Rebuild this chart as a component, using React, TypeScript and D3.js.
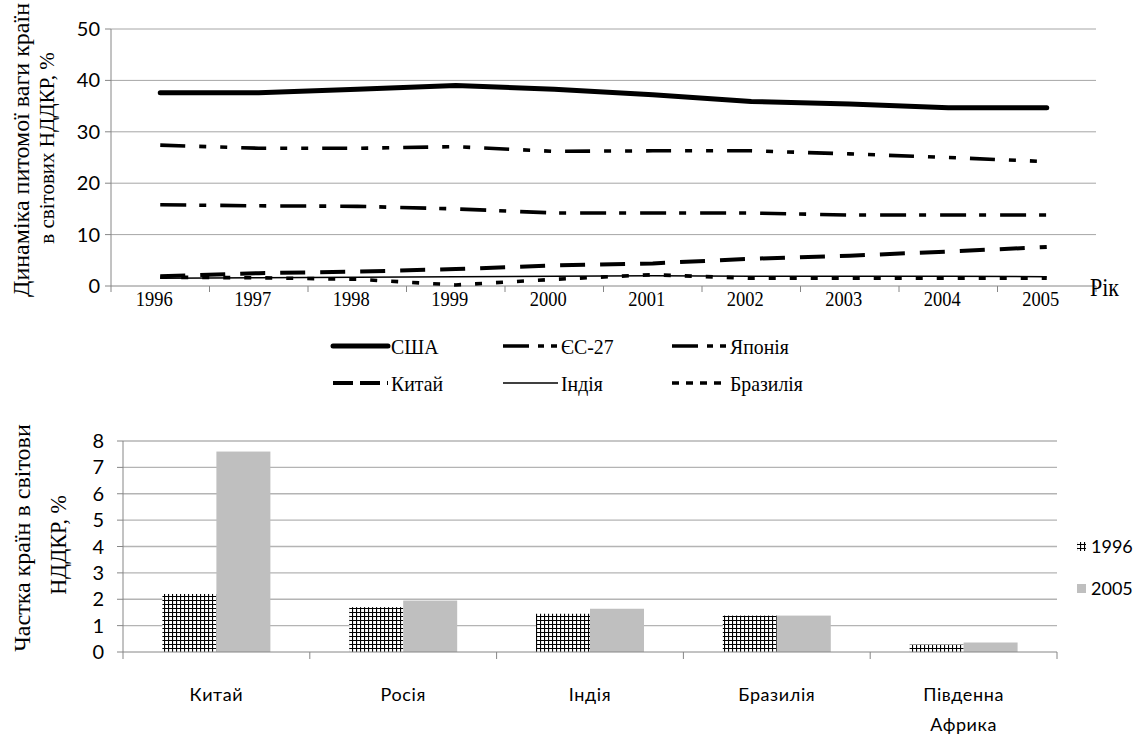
import * as d3 from "d3";

// top chart: share of countries in world R&D, %
const years = ["1996", "1997", "1998", "1999", "2000", "2001", "2002", "2003", "2004", "2005"];
const usa = [37.6, 37.6, 38.3, 39.0, 38.3, 37.2, 35.9, 35.4, 34.7, 34.7];
const eu27 = [27.4, 26.8, 26.8, 27.1, 26.2, 26.3, 26.3, 25.7, 25.0, 24.2];
const japan = [15.8, 15.6, 15.5, 15.0, 14.2, 14.2, 14.2, 13.8, 13.8, 13.8];
const china = [1.9, 2.5, 2.8, 3.3, 4.0, 4.4, 5.3, 5.9, 6.7, 7.6];
const india = [1.5, 1.6, 1.7, 1.8, 1.9, 2.0, 1.9, 1.9, 1.9, 1.8];
const brazil = [1.7, 1.6, 1.3, 0.2, 1.3, 2.2, 1.5, 1.5, 1.5, 1.5];
const topTicks = [0, 10, 20, 30, 40, 50];

// bottom chart
const barCountries = ["Китай", "Росія", "Індія", "Бразилія", "Південна Африка"];
const barYears = ["1996", "2005"];
const share1996 = [2.2, 1.7, 1.45, 1.38, 0.28];
const share2005 = [7.6, 1.95, 1.64, 1.38, 0.36];
const bottomTicks = [0, 1, 2, 3, 4, 5, 6, 7, 8];

const serif = "'Liberation Serif', 'Times New Roman', serif";
const sans = "Lato, 'Open Sans', sans-serif";
const gridColor = "#a6a6a6";
const axisColor = "#868686";

export default function App() {
  // ---- top line chart ----
  const x = d3.scaleBand<string>().domain(years).range([111, 1096]);
  const cx = (d: string) => x(d)! + x.bandwidth() / 2;
  const y = d3.scaleLinear().domain([0, 50]).range([286, 29]);
  const line = d3
    .line<number>()
    .x((_, i) => cx(years[i]))
    .y((v) => y(v));

  const series = [
    { name: "США", values: usa, width: 5, dash: "", legendDash: "", cap: "round" },
    { name: "ЄС-27", values: eu27, width: 3.6, dash: "25,14,7,14,7,14", legendDash: "26,9,6,7,6,20", cap: "butt" },
    { name: "Японія", values: japan, width: 3.6, dash: "26,13,7,14", legendDash: "26,9,6,7,6,20", cap: "butt" },
    { name: "Китай", values: china, width: 4, dash: "25,15", legendDash: "20,7", cap: "butt" },
    { name: "Індія", values: india, width: 1.5, dash: "", legendDash: "", cap: "butt" },
    { name: "Бразилія", values: brazil, width: 3.6, dash: "7,14", legendDash: "7,7", cap: "butt" },
  ];
  const legendCols = [333, 503, 672];
  const legendRows = [346, 383];

  // ---- bottom bar chart ----
  const xb = d3.scaleBand<string>().domain(barCountries).range([123, 1057]);
  const x1 = d3.scaleBand<string>().domain(barYears).range([0, xb.bandwidth()]).paddingOuter(0.73);
  const yb = d3.scaleLinear().domain([0, 8]).range([652, 441]);
  const barSeries = [
    { key: "1996", values: share1996, fill: "url(#hatch)" },
    { key: "2005", values: share2005, fill: "#bfbfbf" },
  ];

  return (
    <svg width={1145} height={736} style={{ position: "absolute", left: 0, top: 0 }}>
      <defs>
        <pattern id="hatch" width={4} height={4} patternUnits="userSpaceOnUse">
          <rect width={4} height={4} fill="#fff" />
          <path d="M0.5,0V4M0,0.5H4" stroke="#000" strokeWidth={1.2} />
        </pattern>
        <clipPath id="clipBottomTitle">
          <rect x={0} y={424} width={120} height={312} />
        </clipPath>
      </defs>

      {/* top chart grid + axes */}
      {topTicks.map((t) => (
        <g key={t}>
          {t > 0 && <line x1={111} x2={1096} y1={y(t)} y2={y(t)} stroke={gridColor} strokeWidth={1} />}
          <line x1={105} x2={111} y1={y(t)} y2={y(t)} stroke={axisColor} />
          <text x={100} y={y(t)} dy="0.35em" textAnchor="end" fontFamily={sans} fontSize={20} fill="#000">
            {t}
          </text>
        </g>
      ))}
      <line x1={111} x2={111} y1={y(50)} y2={y(0)} stroke={axisColor} />
      <line x1={111} x2={1096} y1={y(0)} y2={y(0)} stroke={axisColor} />
      {years.concat(["end"]).map((d, i) => {
        const tx = i < years.length ? x(d)! : x.range()[1];
        return <line key={d} x1={tx} x2={tx} y1={y(0)} y2={y(0) + 6} stroke={axisColor} />;
      })}
      {years.map((d) => (
        <text
          key={d}
          transform={`translate(${cx(d) - 6},306) scale(0.88,1)`}
          textAnchor="middle"
          fontFamily={serif}
          fontSize={21}
        >
          {d}
        </text>
      ))}
      <text transform="translate(1090,296) scale(0.88,1)" fontFamily={serif} fontSize={25}>
        Рік
      </text>

      {/* top chart y title */}
      <text transform="translate(29,150) rotate(-90)" textAnchor="middle" fontFamily={serif} fontSize={24}>
        Динаміка питомої ваги країн
      </text>
      <text transform="translate(54,148) rotate(-90)" textAnchor="middle" fontFamily={serif} fontSize={21}>
        в світових НДДКР, %
      </text>

      {/* lines */}
      {series.map((s) => (
        <path
          key={s.name}
          d={line(s.values)!}
          fill="none"
          stroke="#000"
          strokeWidth={s.width}
          strokeDasharray={s.dash || undefined}
          strokeLinecap={s.cap as any}
          strokeLinejoin="round"
        />
      ))}

      {/* top legend */}
      {series.map((s, i) => {
        const lx = legendCols[i % 3];
        const ly = legendRows[Math.floor(i / 3)];
        return (
          <g key={s.name}>
            <line
              x1={lx}
              x2={lx + 55}
              y1={ly}
              y2={ly}
              stroke="#000"
              strokeWidth={s.width}
              strokeDasharray={s.legendDash || undefined}
              strokeLinecap={s.cap as any}
            />
            <text transform={`translate(${lx + 58},${ly}) scale(0.9,1)`} dy="0.35em" fontFamily={serif} fontSize={22}>
              {s.name}
            </text>
          </g>
        );
      })}

      {/* bottom chart grid + axes */}
      {bottomTicks.map((t) => (
        <g key={t}>
          {t > 0 && <line x1={123} x2={1057} y1={yb(t)} y2={yb(t)} stroke="#b4b4b4" strokeWidth={1.4} />}
          <line x1={117} x2={123} y1={yb(t)} y2={yb(t)} stroke={axisColor} />
          <text x={104} y={yb(t)} dy="0.35em" textAnchor="end" fontFamily={sans} fontSize={20}>
            {t}
          </text>
        </g>
      ))}
      <line x1={123} x2={123} y1={yb(8)} y2={yb(0)} stroke={axisColor} />

      {/* bars */}
      {barSeries.map((s) =>
        barCountries.map((c, i) => (
          <rect
            key={s.key + c}
            x={xb(c)! + x1(s.key)!}
            y={yb(s.values[i])}
            width={x1.bandwidth()}
            height={yb(0) - yb(s.values[i])}
            fill={s.fill}
          />
        ))
      )}
      <line x1={123} x2={1057} y1={yb(0)} y2={yb(0)} stroke={axisColor} />
      {barCountries.concat(["end"]).map((c, i) => {
        const tx = i < barCountries.length ? xb(c)! : xb.range()[1];
        return <line key={c} x1={tx} x2={tx} y1={yb(0)} y2={yb(0) + 7} stroke={axisColor} />;
      })}
      {barCountries.map((c) => {
        const parts = c.split(" ");
        return (
          <text
            key={c}
            x={xb(c)! + xb.bandwidth() / 2}
            y={701}
            textAnchor="middle"
            fontFamily={sans}
            fontSize={18}
            letterSpacing={0.6}
          >
            {parts.map((p, j) => (
              <tspan key={p} x={xb(c)! + xb.bandwidth() / 2} dy={j === 0 ? 0 : 30}>
                {p}
              </tspan>
            ))}
          </text>
        );
      })}

      {/* bottom chart y title */}
      <g clipPath="url(#clipBottomTitle)">
        <text transform="translate(30,532) rotate(-90)" textAnchor="middle" fontFamily={serif} fontSize={24}>
          Частка країн в світових
        </text>
      </g>
      <text transform="translate(66,545) rotate(-90) scale(0.92,1)" textAnchor="middle" fontFamily={serif} fontSize={24}>
        НДДКР, %
      </text>

      {/* bottom legend */}
      {barSeries.map((s, i) => (
        <g key={s.key}>
          <rect x={1077} y={542 + i * 42} width={9} height={9} fill={s.fill} />
          <text x={1091} y={547 + i * 42} dy="0.35em" fontFamily={sans} fontSize={18}>
            {s.key}
          </text>
        </g>
      ))}
    </svg>
  );
}
